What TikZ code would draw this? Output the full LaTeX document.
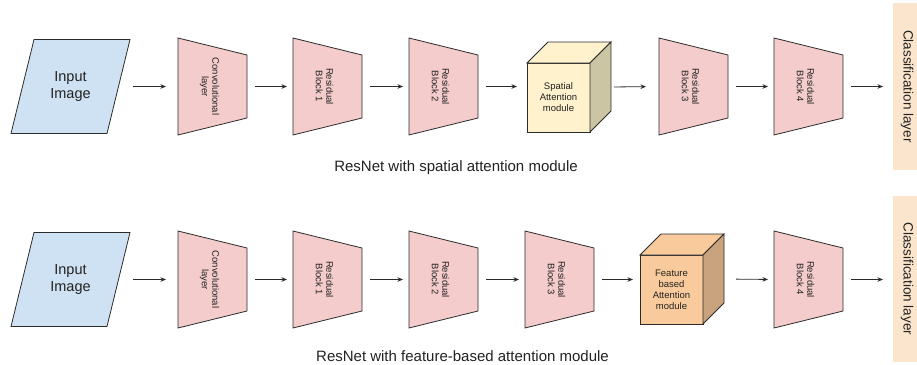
\documentclass[tikz,border=0pt]{standalone}
\usepackage{fontspec}
\setmainfont{Liberation Sans}
\usetikzlibrary{calc,arrows.meta}
\definecolor{inblue}{HTML}{CFE2F3}
\definecolor{tpink}{HTML}{F4CCCC}
\definecolor{yfront}{HTML}{FFF2CC}
\definecolor{yside}{HTML}{CCC5A3}
\definecolor{ofront}{HTML}{F9CB9C}
\definecolor{oside}{HTML}{C9A27E}
\definecolor{clsbg}{HTML}{FCE5CD}
\definecolor{lineg}{HTML}{2B2B2B}
\definecolor{txt}{HTML}{222222}
\tikzset{
  outl/.style={draw=lineg, line width=0.8pt, line join=miter},
  tframe/.style={draw=none, inner sep=0pt, outer sep=0pt, minimum width=69pt, minimum height=97pt},
  cframe/.style={draw=none, inner sep=0pt, outer sep=0pt, minimum width=84pt, minimum height=90pt},
  iframe/.style={draw=none, inner sep=0pt, outer sep=0pt, minimum width=119pt, minimum height=94pt},
  clsbox/.style={fill=clsbg, draw=none, inner sep=0pt, outer sep=0pt, minimum width=26pt},
  arr/.style={draw=lineg, line width=0.8pt, -{Stealth[length=5.5pt,width=4.5pt]}, shorten <=8pt, shorten >=6pt},
  lbl/.style={rotate=-90, align=center, inner sep=0pt, font=\fontsize{9.5}{10.5}\selectfont, text=txt},
  clbl/.style={align=center, inner sep=0pt, font=\fontsize{9.5}{11}\selectfont, text=txt},
  ilbl/.style={align=center, inner sep=0pt, font=\fontsize{14.5}{17.5}\selectfont, text=txt},
  captext/.style={anchor=base, inner sep=0pt, font=\fontsize{15}{18}\selectfont, text=txt},
  clstxt/.style={rotate=-90, inner sep=0pt, font=\fontsize{13.5}{16}\selectfont, text=txt},
}
\newcommand\mytrap[4]{%
  \node[tframe] (#1) at (#2,#3) {};
  \draw[outl, fill=tpink] (#1.north west) -- ($(#1.north east)+(0,17)$) -- ($(#1.south east)+(0,-17)$) -- (#1.south west) -- cycle;
  \node[lbl] (#1-t) at ($(#1.center)+(-3,0)$) {#4};
}
\newcommand\mycube[6]{%
  \node[cframe] (#1) at (#2,#3) {};
  \draw[outl, fill=#4] (#1.south west) rectangle ($(#1.north east)+(-21,21)$);
  \draw[outl, fill=#4] ($(#1.north west)+(0,21)$) -- ($(#1.north west)+(21,0)$) -- (#1.north east) -- ($(#1.north east)+(-21,21)$) -- cycle;
  \draw[outl, fill=#5] ($(#1.north east)+(-21,21)$) -- (#1.north east) -- ($(#1.south east)+(0,-21)$) -- ($(#1.south east)+(-21,0)$) -- cycle;
  \node[clbl] (#1-t) at ($(#1.center)+(-10.5,10.5)$) {#6};
}
\newcommand\myinput[3]{%
  \node[iframe] (#1) at (#2,#3) {};
  \draw[outl, fill=inblue] ($(#1.north west)+(23,0)$) -- (#1.north east) -- ($(#1.south east)+(-23,0)$) -- (#1.south west) -- cycle;
  \node[ilbl] (#1-t) at (#1.center) {Input\\Image};
}
\begin{document}
\begin{tikzpicture}[x=1pt,y=-1pt]
\useasboundingbox (0,0) rectangle (917,364);

% ---------- top row ----------
\myinput{inA}{70.5}{86.5}
\mytrap{convA}{212.5}{86.5}{Convolutional\\layer}
\mytrap{rb1A}{327.5}{86.5}{Residual\\Block 1}
\mytrap{rb2A}{443.5}{86.5}{Residual\\Block 2}
\mycube{cubeA}{569}{87}{yfront}{yside}{Spatial\\Attention\\module}
\mytrap{rb3A}{693.5}{86.5}{Residual\\Block 3}
\mytrap{rb4A}{808.5}{86.5}{Residual\\Block 4}
\node[clsbox, minimum height=167pt] (clsA) at (906,86.5) {};
\node[clstxt] (clsA-t) at (907,86.5) {Classification layer};

\draw[arr, shorten <=3pt, shorten >=12pt] (inA.east) -- (convA.west);
\draw[arr] (convA.east) -- (rb1A.west);
\draw[arr] (rb1A.east) -- (rb2A.west);
\draw[arr, shorten >=10pt] (rb2A.east) -- (rb2A.east -| cubeA.west);
\draw[arr, shorten <=3pt, shorten >=13pt] (cubeA.east) -- (rb3A.west);
\draw[arr] (rb3A.east) -- (rb4A.west);
\draw[arr, shorten >=10pt] (rb4A.east) -- (rb4A.east -| clsA.west);

\node[captext] (capA) at (456,171) {ResNet with spatial attention module};

% ---------- bottom row ----------
\myinput{inB}{70.5}{279.5}
\mytrap{convB}{212.5}{279.5}{Convolutional\\layer}
\mytrap{rb1B}{327.5}{279.5}{Residual\\Block 1}
\mytrap{rb2B}{443.5}{279.5}{Residual\\Block 2}
\mytrap{rb3B}{559.5}{279.5}{Residual\\Block 3}
\mycube{cubeB}{682}{279}{ofront}{oside}{Feature\\based\\Attention\\module}
\mytrap{rb4B}{808.5}{279.5}{Residual\\Block 4}
\node[clsbox, minimum height=166pt] (clsB) at (906,279) {};
\node[clstxt] (clsB-t) at (907,279) {Classification layer};

\draw[arr, shorten <=3pt, shorten >=12pt] (inB.east) -- (convB.west);
\draw[arr] (convB.east) -- (rb1B.west);
\draw[arr] (rb1B.east) -- (rb2B.west);
\draw[arr] (rb2B.east) -- (rb3B.west);
\draw[arr, shorten >=7pt] (rb3B.east) -- (rb3B.east -| cubeB.west);
\draw[arr, shorten <=12pt] (cubeB.east) -- (rb4B.west);
\draw[arr, shorten >=10pt] (rb4B.east) -- (rb4B.east -| clsB.west);

\node[captext] (capB) at (462.5,361) {ResNet with feature-based attention module};
\end{tikzpicture}
\end{document}
